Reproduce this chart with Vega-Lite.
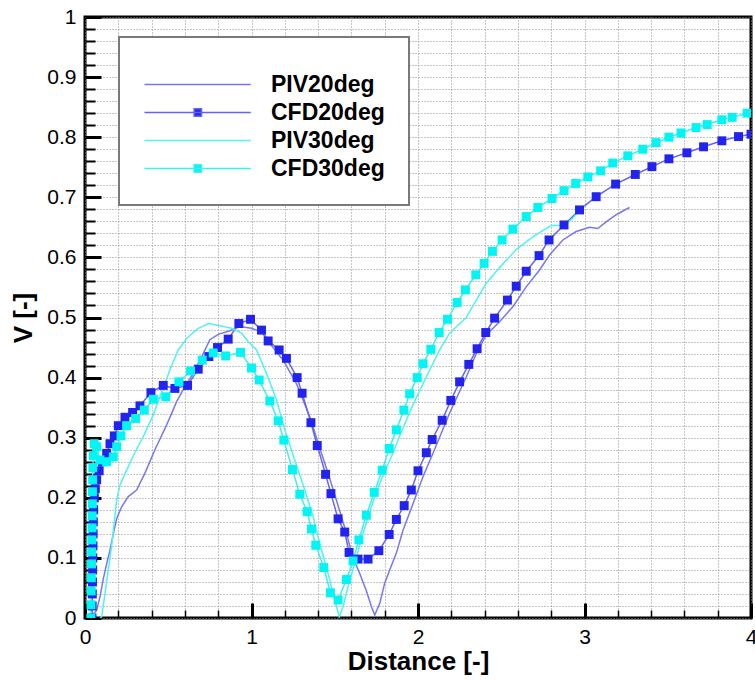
{
  "$schema": "https://vega.github.io/schema/vega-lite/v6.json",
  "width": 666,
  "height": 601,
  "autosize": "none",
  "padding": {"left": 85, "top": 17, "right": 4, "bottom": 62},
  "background": "white",
  "config": {
    "view": {"stroke": "black", "strokeWidth": 3},
    "font": "Liberation Sans"
  },
  "data": {"values": [
    {"s":"PIV20deg","x":0.03,"y":0.02},{"s":"PIV20deg","x":0.05,"y":0.005},{"s":"PIV20deg","x":0.07,"y":0.013},{"s":"PIV20deg","x":0.09,"y":0.035},{"s":"PIV20deg","x":0.11,"y":0.065},{"s":"PIV20deg","x":0.13,"y":0.09},{"s":"PIV20deg","x":0.15,"y":0.113},{"s":"PIV20deg","x":0.17,"y":0.14},{"s":"PIV20deg","x":0.19,"y":0.165},{"s":"PIV20deg","x":0.22,"y":0.185},{"s":"PIV20deg","x":0.26,"y":0.202},{"s":"PIV20deg","x":0.31,"y":0.213},{"s":"PIV20deg","x":0.36,"y":0.241},{"s":"PIV20deg","x":0.42,"y":0.28},{"s":"PIV20deg","x":0.48,"y":0.315},{"s":"PIV20deg","x":0.52,"y":0.34},{"s":"PIV20deg","x":0.55,"y":0.36},{"s":"PIV20deg","x":0.6,"y":0.385},{"s":"PIV20deg","x":0.65,"y":0.407},{"s":"PIV20deg","x":0.71,"y":0.44},{"s":"PIV20deg","x":0.75,"y":0.463},{"s":"PIV20deg","x":0.8,"y":0.472},{"s":"PIV20deg","x":0.87,"y":0.478},{"s":"PIV20deg","x":0.93,"y":0.485},{"s":"PIV20deg","x":1.0,"y":0.482},{"s":"PIV20deg","x":1.06,"y":0.476},{"s":"PIV20deg","x":1.11,"y":0.457},{"s":"PIV20deg","x":1.19,"y":0.429},{"s":"PIV20deg","x":1.27,"y":0.39},{"s":"PIV20deg","x":1.35,"y":0.335},{"s":"PIV20deg","x":1.41,"y":0.283},{"s":"PIV20deg","x":1.47,"y":0.232},{"s":"PIV20deg","x":1.53,"y":0.178},{"s":"PIV20deg","x":1.57,"y":0.141},{"s":"PIV20deg","x":1.61,"y":0.1},{"s":"PIV20deg","x":1.65,"y":0.074},{"s":"PIV20deg","x":1.69,"y":0.045},{"s":"PIV20deg","x":1.72,"y":0.019},{"s":"PIV20deg","x":1.74,"y":0.005},{"s":"PIV20deg","x":1.77,"y":0.024},{"s":"PIV20deg","x":1.8,"y":0.058},{"s":"PIV20deg","x":1.83,"y":0.08},{"s":"PIV20deg","x":1.87,"y":0.108},{"s":"PIV20deg","x":1.91,"y":0.146},{"s":"PIV20deg","x":1.97,"y":0.19},{"s":"PIV20deg","x":2.03,"y":0.235},{"s":"PIV20deg","x":2.09,"y":0.274},{"s":"PIV20deg","x":2.19,"y":0.341},{"s":"PIV20deg","x":2.29,"y":0.401},{"s":"PIV20deg","x":2.35,"y":0.44},{"s":"PIV20deg","x":2.41,"y":0.471},{"s":"PIV20deg","x":2.49,"y":0.493},{"s":"PIV20deg","x":2.57,"y":0.518},{"s":"PIV20deg","x":2.65,"y":0.551},{"s":"PIV20deg","x":2.73,"y":0.579},{"s":"PIV20deg","x":2.79,"y":0.604},{"s":"PIV20deg","x":2.87,"y":0.629},{"s":"PIV20deg","x":2.95,"y":0.643},{"s":"PIV20deg","x":3.03,"y":0.65},{"s":"PIV20deg","x":3.08,"y":0.648},{"s":"PIV20deg","x":3.13,"y":0.659},{"s":"PIV20deg","x":3.19,"y":0.671},{"s":"PIV20deg","x":3.27,"y":0.683},

    {"s":"CFD20deg","x":0.042,"y":0.0},{"s":"CFD20deg","x":0.043,"y":0.02},{"s":"CFD20deg","x":0.044,"y":0.04},{"s":"CFD20deg","x":0.045,"y":0.06},{"s":"CFD20deg","x":0.046,"y":0.08},{"s":"CFD20deg","x":0.047,"y":0.1},{"s":"CFD20deg","x":0.048,"y":0.12},{"s":"CFD20deg","x":0.049,"y":0.14},{"s":"CFD20deg","x":0.05,"y":0.16},{"s":"CFD20deg","x":0.052,"y":0.18},{"s":"CFD20deg","x":0.056,"y":0.2},{"s":"CFD20deg","x":0.062,"y":0.215},{"s":"CFD20deg","x":0.07,"y":0.23},{"s":"CFD20deg","x":0.085,"y":0.245},{"s":"CFD20deg","x":0.105,"y":0.26},{"s":"CFD20deg","x":0.13,"y":0.274},{"s":"CFD20deg","x":0.15,"y":0.29},{"s":"CFD20deg","x":0.176,"y":0.303},{"s":"CFD20deg","x":0.2,"y":0.32},{"s":"CFD20deg","x":0.24,"y":0.334},{"s":"CFD20deg","x":0.286,"y":0.342},{"s":"CFD20deg","x":0.33,"y":0.353},{"s":"CFD20deg","x":0.396,"y":0.375},{"s":"CFD20deg","x":0.47,"y":0.387},{"s":"CFD20deg","x":0.54,"y":0.382},{"s":"CFD20deg","x":0.616,"y":0.387},{"s":"CFD20deg","x":0.68,"y":0.414},{"s":"CFD20deg","x":0.744,"y":0.435},{"s":"CFD20deg","x":0.796,"y":0.45},{"s":"CFD20deg","x":0.86,"y":0.464},{"s":"CFD20deg","x":0.924,"y":0.49},{"s":"CFD20deg","x":0.994,"y":0.497},{"s":"CFD20deg","x":1.06,"y":0.479},{"s":"CFD20deg","x":1.1,"y":0.461},{"s":"CFD20deg","x":1.166,"y":0.446},{"s":"CFD20deg","x":1.21,"y":0.432},{"s":"CFD20deg","x":1.274,"y":0.4},{"s":"CFD20deg","x":1.304,"y":0.374},{"s":"CFD20deg","x":1.357,"y":0.325},{"s":"CFD20deg","x":1.395,"y":0.287},{"s":"CFD20deg","x":1.445,"y":0.239},{"s":"CFD20deg","x":1.477,"y":0.207},{"s":"CFD20deg","x":1.52,"y":0.165},{"s":"CFD20deg","x":1.56,"y":0.143},{"s":"CFD20deg","x":1.586,"y":0.109},{"s":"CFD20deg","x":1.64,"y":0.098},{"s":"CFD20deg","x":1.7,"y":0.098},{"s":"CFD20deg","x":1.765,"y":0.112},{"s":"CFD20deg","x":1.827,"y":0.139},{"s":"CFD20deg","x":1.87,"y":0.164},{"s":"CFD20deg","x":1.917,"y":0.187},{"s":"CFD20deg","x":1.96,"y":0.213},{"s":"CFD20deg","x":2.0,"y":0.245},{"s":"CFD20deg","x":2.05,"y":0.275},{"s":"CFD20deg","x":2.085,"y":0.297},{"s":"CFD20deg","x":2.145,"y":0.329},{"s":"CFD20deg","x":2.197,"y":0.362},{"s":"CFD20deg","x":2.25,"y":0.393},{"s":"CFD20deg","x":2.305,"y":0.422},{"s":"CFD20deg","x":2.355,"y":0.448},{"s":"CFD20deg","x":2.407,"y":0.475},{"s":"CFD20deg","x":2.46,"y":0.499},{"s":"CFD20deg","x":2.537,"y":0.529},{"s":"CFD20deg","x":2.59,"y":0.552},{"s":"CFD20deg","x":2.65,"y":0.577},{"s":"CFD20deg","x":2.727,"y":0.603},{"s":"CFD20deg","x":2.787,"y":0.629},{"s":"CFD20deg","x":2.877,"y":0.654},{"s":"CFD20deg","x":2.97,"y":0.679},{"s":"CFD20deg","x":3.07,"y":0.701},{"s":"CFD20deg","x":3.187,"y":0.722},{"s":"CFD20deg","x":3.305,"y":0.738},{"s":"CFD20deg","x":3.405,"y":0.751},{"s":"CFD20deg","x":3.507,"y":0.764},{"s":"CFD20deg","x":3.615,"y":0.774},{"s":"CFD20deg","x":3.715,"y":0.784},{"s":"CFD20deg","x":3.825,"y":0.794},{"s":"CFD20deg","x":3.925,"y":0.801},{"s":"CFD20deg","x":4.0,"y":0.805},

    {"s":"PIV30deg","x":0.09,"y":0.0},{"s":"PIV30deg","x":0.1,"y":0.002},{"s":"PIV30deg","x":0.12,"y":0.04},{"s":"PIV30deg","x":0.14,"y":0.08},{"s":"PIV30deg","x":0.16,"y":0.12},{"s":"PIV30deg","x":0.18,"y":0.17},{"s":"PIV30deg","x":0.19,"y":0.196},{"s":"PIV30deg","x":0.21,"y":0.221},{"s":"PIV30deg","x":0.25,"y":0.246},{"s":"PIV30deg","x":0.29,"y":0.27},{"s":"PIV30deg","x":0.35,"y":0.302},{"s":"PIV30deg","x":0.41,"y":0.338},{"s":"PIV30deg","x":0.45,"y":0.368},{"s":"PIV30deg","x":0.51,"y":0.413},{"s":"PIV30deg","x":0.56,"y":0.446},{"s":"PIV30deg","x":0.61,"y":0.465},{"s":"PIV30deg","x":0.68,"y":0.482},{"s":"PIV30deg","x":0.744,"y":0.49},{"s":"PIV30deg","x":0.82,"y":0.486},{"s":"PIV30deg","x":0.88,"y":0.482},{"s":"PIV30deg","x":0.94,"y":0.474},{"s":"PIV30deg","x":0.98,"y":0.46},{"s":"PIV30deg","x":1.03,"y":0.446},{"s":"PIV30deg","x":1.09,"y":0.407},{"s":"PIV30deg","x":1.15,"y":0.363},{"s":"PIV30deg","x":1.2,"y":0.313},{"s":"PIV30deg","x":1.26,"y":0.263},{"s":"PIV30deg","x":1.32,"y":0.213},{"s":"PIV30deg","x":1.37,"y":0.169},{"s":"PIV30deg","x":1.41,"y":0.124},{"s":"PIV30deg","x":1.46,"y":0.074},{"s":"PIV30deg","x":1.5,"y":0.03},{"s":"PIV30deg","x":1.527,"y":0.002},{"s":"PIV30deg","x":1.55,"y":0.019},{"s":"PIV30deg","x":1.58,"y":0.052},{"s":"PIV30deg","x":1.62,"y":0.091},{"s":"PIV30deg","x":1.67,"y":0.141},{"s":"PIV30deg","x":1.72,"y":0.185},{"s":"PIV30deg","x":1.77,"y":0.224},{"s":"PIV30deg","x":1.85,"y":0.275},{"s":"PIV30deg","x":1.9,"y":0.31},{"s":"PIV30deg","x":1.97,"y":0.355},{"s":"PIV30deg","x":2.05,"y":0.401},{"s":"PIV30deg","x":2.13,"y":0.446},{"s":"PIV30deg","x":2.19,"y":0.474},{"s":"PIV30deg","x":2.24,"y":0.487},{"s":"PIV30deg","x":2.29,"y":0.5},{"s":"PIV30deg","x":2.35,"y":0.529},{"s":"PIV30deg","x":2.41,"y":0.557},{"s":"PIV30deg","x":2.49,"y":0.583},{"s":"PIV30deg","x":2.59,"y":0.613},{"s":"PIV30deg","x":2.66,"y":0.628},{"s":"PIV30deg","x":2.71,"y":0.638},{"s":"PIV30deg","x":2.8,"y":0.653},{"s":"PIV30deg","x":2.88,"y":0.653},{"s":"PIV30deg","x":2.93,"y":0.665},{"s":"PIV30deg","x":2.97,"y":0.679},{"s":"PIV30deg","x":3.0,"y":0.686},

    {"s":"CFD30deg","x":0.035,"y":0.0},{"s":"CFD30deg","x":0.036,"y":0.022},{"s":"CFD30deg","x":0.037,"y":0.045},{"s":"CFD30deg","x":0.038,"y":0.067},{"s":"CFD30deg","x":0.039,"y":0.09},{"s":"CFD30deg","x":0.04,"y":0.11},{"s":"CFD30deg","x":0.041,"y":0.13},{"s":"CFD30deg","x":0.042,"y":0.15},{"s":"CFD30deg","x":0.043,"y":0.17},{"s":"CFD30deg","x":0.044,"y":0.19},{"s":"CFD30deg","x":0.045,"y":0.21},{"s":"CFD30deg","x":0.046,"y":0.23},{"s":"CFD30deg","x":0.047,"y":0.25},{"s":"CFD30deg","x":0.05,"y":0.27},{"s":"CFD30deg","x":0.055,"y":0.29},{"s":"CFD30deg","x":0.07,"y":0.285},{"s":"CFD30deg","x":0.09,"y":0.263},{"s":"CFD30deg","x":0.13,"y":0.26},{"s":"CFD30deg","x":0.17,"y":0.268},{"s":"CFD30deg","x":0.19,"y":0.285},{"s":"CFD30deg","x":0.216,"y":0.303},{"s":"CFD30deg","x":0.25,"y":0.32},{"s":"CFD30deg","x":0.304,"y":0.332},{"s":"CFD30deg","x":0.356,"y":0.346},{"s":"CFD30deg","x":0.41,"y":0.364},{"s":"CFD30deg","x":0.486,"y":0.368},{"s":"CFD30deg","x":0.564,"y":0.393},{"s":"CFD30deg","x":0.634,"y":0.411},{"s":"CFD30deg","x":0.704,"y":0.429},{"s":"CFD30deg","x":0.77,"y":0.441},{"s":"CFD30deg","x":0.845,"y":0.436},{"s":"CFD30deg","x":0.934,"y":0.442},{"s":"CFD30deg","x":1.0,"y":0.416},{"s":"CFD30deg","x":1.046,"y":0.396},{"s":"CFD30deg","x":1.11,"y":0.361},{"s":"CFD30deg","x":1.16,"y":0.328},{"s":"CFD30deg","x":1.194,"y":0.296},{"s":"CFD30deg","x":1.246,"y":0.247},{"s":"CFD30deg","x":1.29,"y":0.206},{"s":"CFD30deg","x":1.334,"y":0.177},{"s":"CFD30deg","x":1.36,"y":0.148},{"s":"CFD30deg","x":1.386,"y":0.121},{"s":"CFD30deg","x":1.434,"y":0.084},{"s":"CFD30deg","x":1.474,"y":0.042},{"s":"CFD30deg","x":1.52,"y":0.03},{"s":"CFD30deg","x":1.57,"y":0.064},{"s":"CFD30deg","x":1.61,"y":0.095},{"s":"CFD30deg","x":1.645,"y":0.13},{"s":"CFD30deg","x":1.69,"y":0.171},{"s":"CFD30deg","x":1.737,"y":0.209},{"s":"CFD30deg","x":1.785,"y":0.246},{"s":"CFD30deg","x":1.827,"y":0.282},{"s":"CFD30deg","x":1.87,"y":0.313},{"s":"CFD30deg","x":1.915,"y":0.346},{"s":"CFD30deg","x":1.95,"y":0.373},{"s":"CFD30deg","x":1.995,"y":0.4},{"s":"CFD30deg","x":2.03,"y":0.423},{"s":"CFD30deg","x":2.077,"y":0.447},{"s":"CFD30deg","x":2.127,"y":0.475},{"s":"CFD30deg","x":2.177,"y":0.497},{"s":"CFD30deg","x":2.235,"y":0.525},{"s":"CFD30deg","x":2.285,"y":0.546},{"s":"CFD30deg","x":2.347,"y":0.571},{"s":"CFD30deg","x":2.397,"y":0.59},{"s":"CFD30deg","x":2.447,"y":0.61},{"s":"CFD30deg","x":2.505,"y":0.629},{"s":"CFD30deg","x":2.57,"y":0.647},{"s":"CFD30deg","x":2.65,"y":0.668},{"s":"CFD30deg","x":2.72,"y":0.683},{"s":"CFD30deg","x":2.805,"y":0.698},{"s":"CFD30deg","x":2.877,"y":0.711},{"s":"CFD30deg","x":2.947,"y":0.723},{"s":"CFD30deg","x":3.02,"y":0.734},{"s":"CFD30deg","x":3.097,"y":0.744},{"s":"CFD30deg","x":3.17,"y":0.757},{"s":"CFD30deg","x":3.26,"y":0.769},{"s":"CFD30deg","x":3.35,"y":0.78},{"s":"CFD30deg","x":3.43,"y":0.791},{"s":"CFD30deg","x":3.507,"y":0.8},{"s":"CFD30deg","x":3.58,"y":0.807},{"s":"CFD30deg","x":3.67,"y":0.816},{"s":"CFD30deg","x":3.737,"y":0.821},{"s":"CFD30deg","x":3.825,"y":0.829},{"s":"CFD30deg","x":3.887,"y":0.833},{"s":"CFD30deg","x":3.977,"y":0.84}
  ]},
  "resolve": {"axis": {"x": "independent", "y": "independent"}},
  "layer": [
    {
      "mark": {"type": "line", "strokeWidth": 1.5, "clip": true},
      "encoding": {
        "x": {"field": "x", "type": "quantitative", "scale": {"domain": [0, 4], "nice": false},
          "axis": {"orient": "bottom", "values": [0,0.2,0.4,0.6,0.8,1,1.2,1.4,1.6,1.8,2,2.2,2.4,2.6,2.8,3,3.2,3.4,3.6,3.8,4],
            "grid": true, "gridColor": "#8c8c8c", "gridDash": [1, 2], "gridWidth": 1,
            "labels": false, "ticks": true, "tickSize": -8, "tickWidth": 1.5, "tickColor": "black",
            "domain": false, "title": null}},
        "y": {"field": "y", "type": "quantitative", "scale": {"domain": [0, 1], "nice": false},
          "axis": {"orient": "left", "values": [0,0.02,0.04,0.06,0.08,0.1,0.12,0.14,0.16,0.18,0.2,0.22,0.24,0.26,0.28,0.3,0.32,0.34,0.36,0.38,0.4,0.42,0.44,0.46,0.48,0.5,0.52,0.54,0.56,0.58,0.6,0.62,0.64,0.66,0.68,0.7,0.72,0.74,0.76,0.78,0.8,0.82,0.84,0.86,0.88,0.9,0.92,0.94,0.96,0.98,1],
            "grid": true, "gridColor": "#8c8c8c", "gridDash": [1, 2], "gridWidth": 1,
            "labels": false, "ticks": true, "tickSize": -10, "tickWidth": 2, "tickColor": "black",
            "domain": false, "title": null}},
        "color": {"field": "s", "type": "nominal",
          "scale": {"domain": ["PIV20deg", "CFD20deg", "PIV30deg", "CFD30deg"], "range": ["#7878ee", "#6464f0", "#50f2f2", "#3cf0f0"]},
          "legend": {
            "orient": "none", "legendX": 34, "legendY": 20,
            "title": " ", "titleFontSize": 6, "titlePadding": 6,
            "padding": 24, "fillColor": "white", "strokeColor": "#7a7a7a",
            "symbolSize": 400, "symbolStrokeWidth": 1.5,
            "labelFont": "Liberation Sans", "labelFontSize": 23, "labelFontWeight": "bold", "labelColor": "black",
            "labelOffset": 105, "rowPadding": 4,
            "encode": {
              "legend": {"update": {"strokeWidth": {"value": 2}}},
              "symbols": {"update": {
                "shape": {"signal": "(datum.value == 'CFD20deg' || datum.value == 'CFD30deg') ? 'M-1,0H9.63M3.96,-0.38H4.7V0.38H3.96Z' : 'M-1,0H9.63'"},
                "fill": {"signal": "datum.value == 'CFD20deg' ? '#2323f0' : (datum.value == 'CFD30deg' ? '#00f5f5' : 'transparent')"},
                "stroke": {"signal": "datum.value == 'PIV20deg' ? '#7878ee' : (datum.value == 'CFD20deg' ? '#6464f0' : (datum.value == 'PIV30deg' ? '#50f2f2' : '#3cf0f0'))"},
                "strokeWidth": {"value": 1.5},
                "opacity": {"value": 1}
              }}
            }
          }}
      }
    },
    {
      "transform": [{"filter": "datum.s == 'CFD20deg' || datum.s == 'CFD30deg'"}],
      "mark": {"type": "point", "shape": "square", "filled": true, "size": 80, "opacity": 1, "clip": true},
      "encoding": {
        "x": {"field": "x", "type": "quantitative",
          "axis": {"orient": "bottom", "values": [0, 1, 2, 3, 4], "grid": false, "domain": false,
            "tickSize": -15, "tickWidth": 3, "tickColor": "black",
            "labelFont": "Liberation Sans", "labelFontSize": 21, "labelColor": "black", "labelPadding": 23,
            "labelFlush": false,
            "title": "Distance [-]", "titleFont": "Liberation Sans", "titleFontSize": 26, "titleFontWeight": "bold", "titleColor": "black", "titlePadding": 1}},
        "y": {"field": "y", "type": "quantitative",
          "axis": {"orient": "left", "values": [0,0.1,0.2,0.3,0.4,0.5,0.6,0.7,0.8,0.9,1], "format": "~g", "grid": false, "domain": false,
            "tickSize": -16, "tickWidth": 3, "tickColor": "black",
            "labelFont": "Liberation Sans", "labelFontSize": 21, "labelColor": "black", "labelPadding": 25,
            "labelFlush": false,
            "title": "V [-]", "titleFont": "Liberation Sans", "titleFontSize": 26, "titleFontWeight": "bold", "titleColor": "black", "titlePadding": 10}},
        "fill": {"field": "s", "type": "nominal",
          "scale": {"domain": ["CFD20deg", "CFD30deg"], "range": ["#2323f0", "#00f5f5"]}, "legend": null}
      }
    }
  ]
}
